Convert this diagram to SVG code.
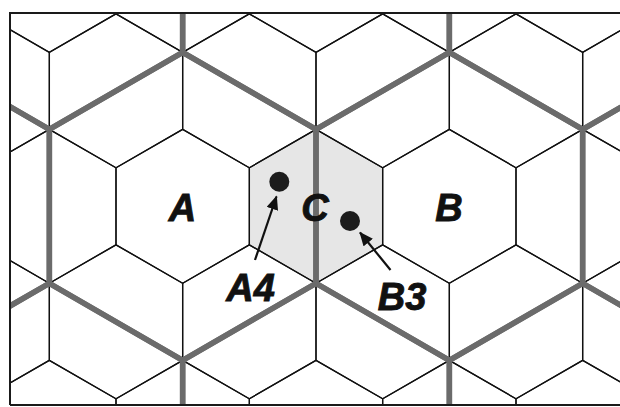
<svg xmlns="http://www.w3.org/2000/svg" xmlns:xlink="http://www.w3.org/1999/xlink" width="620" height="407" viewBox="0 0 620 407">
<style>
.thin{fill:none;stroke:#111;stroke-width:1.3}
.thick{fill:none;stroke:#6b6b6b;stroke-width:5.5;stroke-linejoin:miter}
.lbl{font-family:"Liberation Sans",Arial,Helvetica,sans-serif;font-weight:bold;font-style:italic;font-size:38px;fill:#111;stroke:#111;stroke-width:0.9;text-anchor:middle}
.dot{fill:#1c1c1c}
.arr{stroke:#111;stroke-width:2.2;fill:none}
</style>
<defs>
<clipPath id="frame"><rect x="10" y="13" width="612" height="392"/></clipPath>
<path id="hex" d="M0,-76.98 L66.67,-38.49 L66.67,38.49 L0,76.98 L-66.67,38.49 L-66.67,-38.49 Z"/>
<path id="big" d="M0,-153.96 L133.33,-76.98 L133.33,76.98 L0,153.96 L-133.33,76.98 L-133.33,-76.98 Z"/>
<marker id="ah" markerWidth="14" markerHeight="12" refX="13" refY="6" orient="auto" markerUnits="userSpaceOnUse">
<path d="M0,0 L14,6 L0,12 Z" fill="#111"/>
</marker>
</defs>
<rect x="0" y="0" width="620" height="407" fill="#fff"/>
<g id="grid" clip-path="url(#frame)">
<g id="cell-C-fill"><use xlink:href="#hex" x="316" y="206.3" fill="#e6e6e6" stroke="none"/></g>
<g id="thin-grid" class="thin">
<use xlink:href="#hex" x="49.3" y="-24.6"/><use xlink:href="#hex" x="182.7" y="-24.6"/><use xlink:href="#hex" x="316" y="-24.6"/><use xlink:href="#hex" x="449.3" y="-24.6"/><use xlink:href="#hex" x="582.7" y="-24.6"/><use xlink:href="#hex" x="716" y="-24.6"/><use xlink:href="#hex" x="-84" y="-24.6"/>
<use xlink:href="#hex" x="-17.3" y="90.8"/><use xlink:href="#hex" x="116" y="90.8"/><use xlink:href="#hex" x="249.3" y="90.8"/><use xlink:href="#hex" x="382.7" y="90.8"/><use xlink:href="#hex" x="516" y="90.8"/><use xlink:href="#hex" x="649.3" y="90.8"/>
<use xlink:href="#hex" x="-84" y="206.3"/><use xlink:href="#hex" x="49.3" y="206.3"/><use xlink:href="#hex" x="182.7" y="206.3"/><use xlink:href="#hex" x="316" y="206.3"/><use xlink:href="#hex" x="449.3" y="206.3"/><use xlink:href="#hex" x="582.7" y="206.3"/><use xlink:href="#hex" x="716" y="206.3"/>
<use xlink:href="#hex" x="-17.3" y="321.8"/><use xlink:href="#hex" x="116" y="321.8"/><use xlink:href="#hex" x="249.3" y="321.8"/><use xlink:href="#hex" x="382.7" y="321.8"/><use xlink:href="#hex" x="516" y="321.8"/><use xlink:href="#hex" x="649.3" y="321.8"/>
<use xlink:href="#hex" x="-84" y="437.3"/><use xlink:href="#hex" x="49.3" y="437.3"/><use xlink:href="#hex" x="182.7" y="437.3"/><use xlink:href="#hex" x="316" y="437.3"/><use xlink:href="#hex" x="449.3" y="437.3"/><use xlink:href="#hex" x="582.7" y="437.3"/><use xlink:href="#hex" x="716" y="437.3"/>
</g>
<g id="clusters" class="thick">
<use xlink:href="#big" x="182.7" y="206.3"/><use xlink:href="#big" x="449.3" y="206.3"/><use xlink:href="#big" x="-84" y="206.3"/><use xlink:href="#big" x="716" y="206.3"/>
<use xlink:href="#big" x="49.3" y="-24.6"/><use xlink:href="#big" x="316" y="-24.6"/><use xlink:href="#big" x="582.7" y="-24.6"/>
<use xlink:href="#big" x="49.3" y="437.3"/><use xlink:href="#big" x="316" y="437.3"/><use xlink:href="#big" x="582.7" y="437.3"/>
</g>
</g>
<path id="border" d="M10,405 L10,13 L622,13 M10,405 L622,405" fill="none" stroke="#1a1a1a" stroke-width="2"/>
<g id="cell-A"><text class="lbl" x="182.5" y="221">A</text></g>
<g id="cell-C"><text class="lbl" x="315" y="221">C</text></g>
<g id="cell-B"><text class="lbl" x="449" y="221">B</text></g>
<g id="point-A4"><circle class="dot" cx="279.3" cy="181.7" r="10"/><text class="lbl" x="250.5" y="300.5">A4</text></g>
<g id="point-B3"><circle class="dot" cx="350" cy="221" r="10"/><text class="lbl" x="402" y="309.5">B3</text></g>
<g id="connectors">
<line class="arr" x1="255" y1="260" x2="276.5" y2="196.5" marker-end="url(#ah)"/>
<line class="arr" x1="390.5" y1="270" x2="360" y2="232.5" marker-end="url(#ah)"/>
</g>
</svg>
